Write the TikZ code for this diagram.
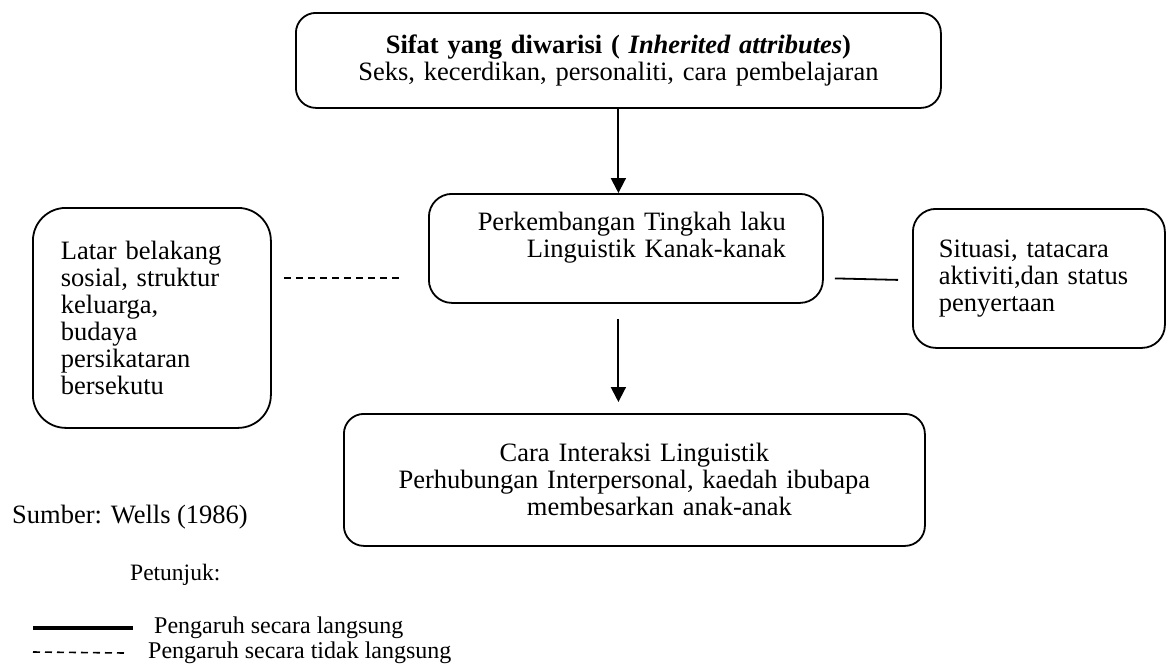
\documentclass[tikz,border=0pt]{standalone}
\usepackage{fontspec}
\setmainfont{Liberation Serif}
\usetikzlibrary{positioning}
\usetikzlibrary{arrows.meta}
\tikzstyle{box}=[draw,rectangle,line width=1.8pt,rounded corners=20pt,anchor=north west,inner ysep=0pt,font=\fontsize{26.5}{27}\selectfont]
\tikzstyle{edge} = [draw,line width=2pt,-{Triangle[width=15pt,length=15pt]}]
\tikzstyle{dashededge} = [draw,line width=1.6pt,dash pattern=on 7pt off 5pt]
\tikzstyle{plainedge} = [draw,line width=1.8pt]
\tikzstyle{weight} = [font=\fontsize{26.5}{27}\selectfont,anchor=west,inner sep=0pt]

\begin{document}
\begin{tikzpicture}[x=1pt,y=-1pt]
    \useasboundingbox (0,0) rectangle (1168,670);

    % First we draw the boxes
    \node[box,minimum width=645pt,minimum height=95pt,align=center,text width=600pt] (sifat) at (295,12)
        {\textbf{Sifat yang diwarisi (} \textbf{\textit{Inherited attributes}}\textbf{)}\\ Seks, kecerdikan, personaliti, cara pembelajaran};
    \node[box,minimum width=394pt,minimum height=109pt,align=right,text width=320pt,inner xsep=37pt,rounded corners=23pt] (tingkah) at (428,193)
        {Perkembangan Tingkah laku\\ Linguistik Kanak-kanak\\ \mbox{}};
    \node[box,minimum width=238pt,minimum height=220pt,align=left,text width=182pt,inner xsep=28pt,rounded corners=33pt] (latar) at (32,207)
        {Latar belakang\\ sosial, struktur\\ keluarga,\\ budaya\\ persikataran\\ bersekutu};
    \node[box,minimum width=252pt,minimum height=139pt,align=left,text width=200pt,inner xsep=26pt,rounded corners=23pt] (situasi) at (912,208)
        {Situasi, tatacara\\ aktiviti,dan status\\ penyertaan};
    \node[box,minimum width=581pt,minimum height=132pt,align=center,text width=560pt] (cara) at (343,413)
        {Cara Interaksi Linguistik\\ Perhubungan Interpersonal, kaedah ibubapa\\ \hspace*{50pt}membesarkan anak-anak};

    % Connect boxes
    \draw[edge] (sifat.south) -- (sifat.south |- tingkah.north);
    \draw[edge,shorten <=15pt,shorten >=11pt] (tingkah.south -| sifat.south) -- (cara.north -| sifat.south);
    \draw[dashededge] ([xshift=12pt,yshift=40pt]latar.east) -- ([xshift=-26pt,yshift=-29.5pt]tingkah.west);
    \draw[plainedge] ([xshift=11pt,yshift=-30pt]tingkah.east) -- ([xshift=-14pt,yshift=-1.5pt]situasi.west);

    % Source and legend
    \node[weight] (sumber) at (12,517) {Sumber: Wells (1986)};
    \node[weight,font=\fontsize{23.5}{24}\selectfont] (petunjuk) at (130,575) {Petunjuk:};
    \node[weight,font=\fontsize{24}{24}\selectfont] (langsung) at (154,628) {Pengaruh secara langsung};
    \node[weight,font=\fontsize{24}{24}\selectfont] (tidaklangsung) at (148,653) {Pengaruh secara tidak langsung};
    \coordinate (keyA) at (33,628);
    \coordinate (keyB) at (33,652);
    \draw[line width=4pt] (keyA) -- ([xshift=-21pt]langsung.west);
    \draw[dashededge] (keyB) -- ([xshift=-23pt]tidaklangsung.west);
\end{tikzpicture}
\end{document}
